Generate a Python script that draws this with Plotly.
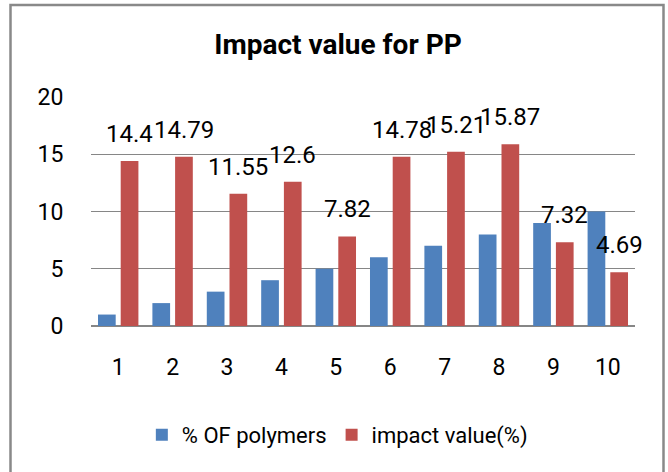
import plotly.graph_objects as go

categories = ["1", "2", "3", "4", "5", "6", "7", "8", "9", "10"]
polymers = [1, 2, 3, 4, 5, 6, 7, 8, 9, 10]
impact = [14.4, 14.79, 11.55, 12.6, 7.82, 14.78, 15.21, 15.87, 7.32, 4.69]
impact_labels = ["14.4", "14.79", "11.55", "12.6", "7.82", "14.78", "15.21", "15.87", "7.32", "4.69"]
series_names = ["% OF polymers", "impact value(%)"]
y_ticks = [0, 5, 10, 15, 20]

W, H = 668, 472
ML, MR, MT, MB = 91, 33, 97, 146
BLUE = "#4F81BD"
RED = "#C0504D"
GRID = "#868686"
FONT = "Roboto, sans-serif"

fig = go.Figure()
fig.add_trace(go.Bar(x=categories, y=polymers, name=series_names[0],
                     marker=dict(color=BLUE, line=dict(width=0))))
fig.add_trace(go.Bar(x=categories, y=impact, name=series_names[1],
                     marker=dict(color=RED, line=dict(width=0))))

plot_w = W - ML - MR
bargap = 0.165
bargroupgap = 0.22
slot = plot_w / len(categories) * (1 - bargap) / 2

for i, (v, t) in enumerate(zip(impact, impact_labels)):
    fig.add_annotation(x=i, y=v, text=t, showarrow=False, xref="x", yref="y",
                       xshift=slot / 2, yshift=27, yanchor="middle",
                       font=dict(family=FONT, size=24, color="#000000"))

# chart border
plot_h = H - MT - MB
def px_to_paper_x(px):
    return (px - ML) / plot_w
def px_to_paper_y(py):
    return (H - MB - py) / plot_h
fig.add_shape(type="rect", xref="paper", yref="paper",
              x0=px_to_paper_x(10.5), x1=px_to_paper_x(663.5),
              y0=px_to_paper_y(480), y1=px_to_paper_y(5),
              line=dict(color="#898989", width=2.5), fillcolor="rgba(0,0,0,0)", layer="below")

fig.update_layout(
    width=W, height=H,
    margin=dict(l=ML, r=MR, t=MT, b=MB, autoexpand=False),
    paper_bgcolor="white", plot_bgcolor="white",
    barmode="group", bargap=bargap, bargroupgap=bargroupgap,
    title=dict(text="<b>Impact value for PP</b>", x=0.506, xref="container", xanchor="center",
               y=1 - 44 / H, yref="container", yanchor="middle",
               font=dict(family=FONT, size=28, color="#000000")),
    legend=dict(orientation="h", xref="container", x=0.505, xanchor="center",
                yref="container", y=1 - 435 / H, yanchor="middle",
                font=dict(family=FONT, size=22, color="#000000"),
                itemwidth=30, traceorder="normal"),
    showlegend=True,
)
fig.update_xaxes(type="category", range=[-0.5, len(categories) - 0.5], autorange=False,
                 showgrid=False, showline=False, zeroline=False,
                 ticks="outside", ticklen=20, tickcolor="rgba(0,0,0,0)",
                 tickfont=dict(family=FONT, size=23, color="#000000"))
fig.update_yaxes(range=[0, 20], autorange=False, tickvals=y_ticks, showgrid=True,
                 gridcolor=GRID, gridwidth=1.3,
                 zeroline=True, zerolinecolor=GRID, zerolinewidth=2, showline=False,
                 ticks="outside", ticklen=22, tickcolor="rgba(0,0,0,0)",
                 tickfont=dict(family=FONT, size=23, color="#000000"))

fig.write_html("out.html", config={"displayModeBar": False},
               post_script="document.body.style.margin='0';")
